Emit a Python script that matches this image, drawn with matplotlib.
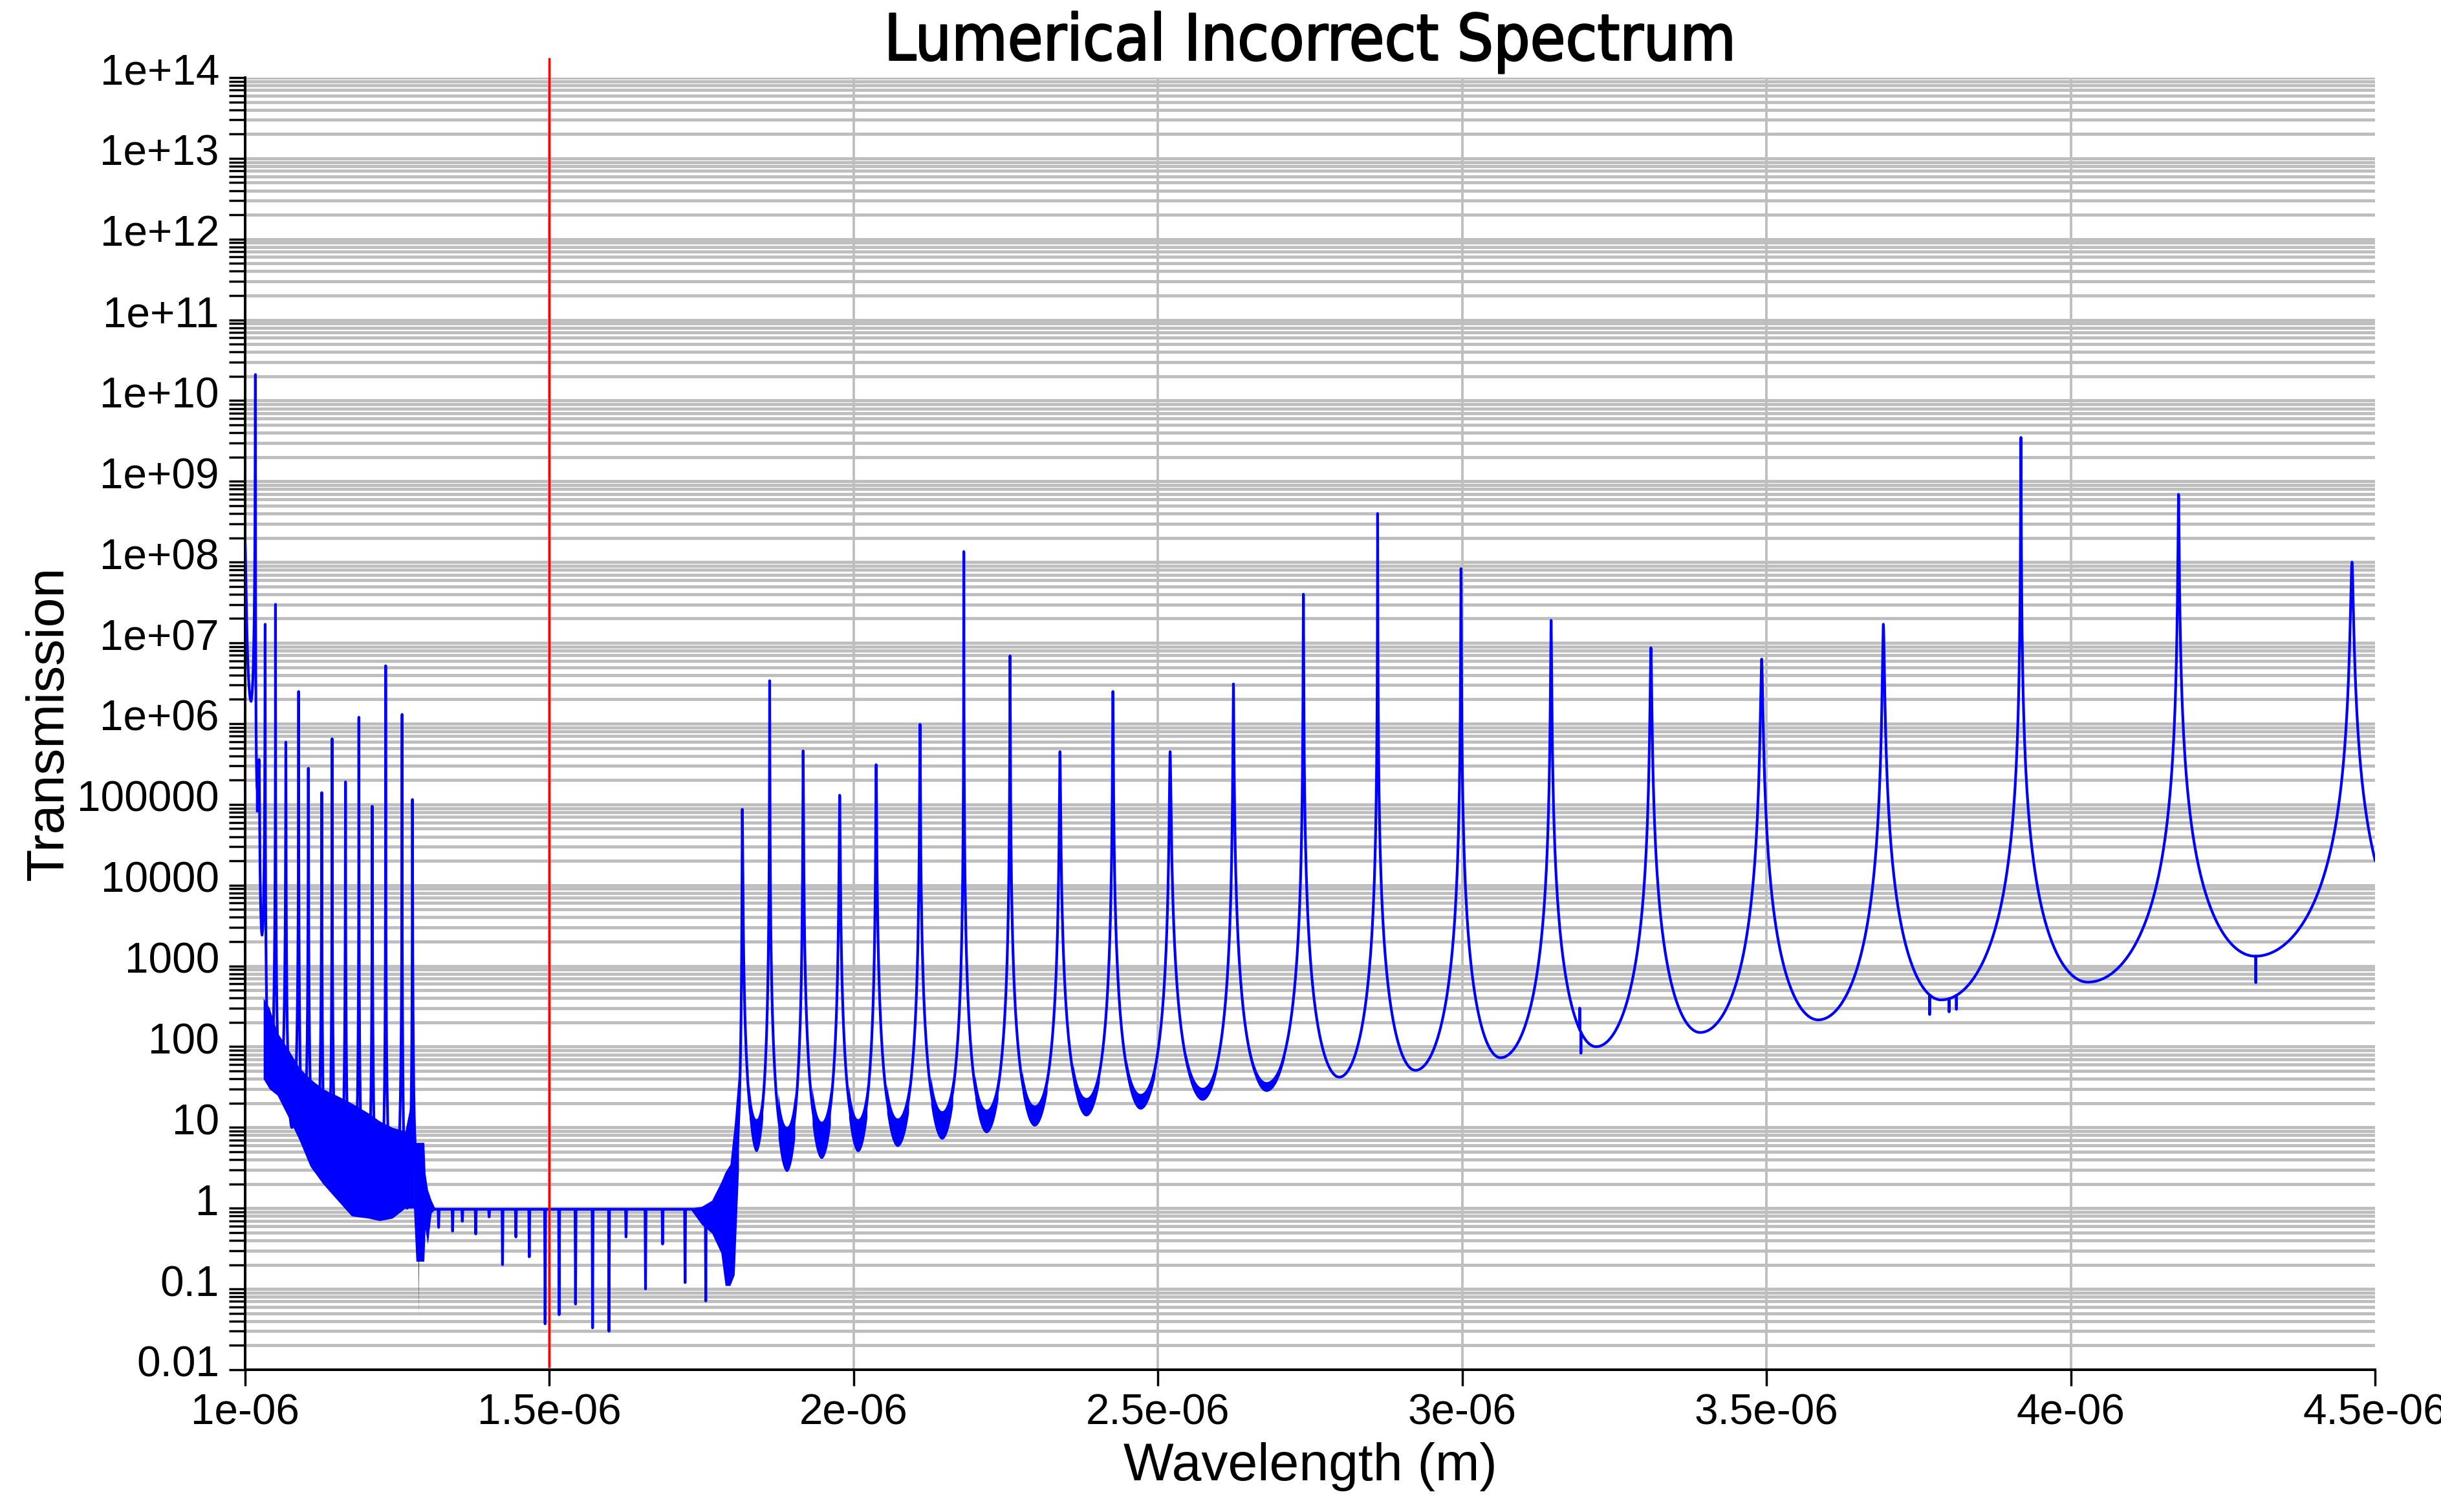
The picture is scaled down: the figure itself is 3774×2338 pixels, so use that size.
import os
import numpy as np
import matplotlib
matplotlib.use("Agg")
import matplotlib.pyplot as plt
import matplotlib.patheffects as pe
from matplotlib import font_manager
from matplotlib.font_manager import FontProperties
from matplotlib.ticker import FixedLocator, LogLocator, FuncFormatter, NullFormatter
from matplotlib.transforms import ScaledTranslation

# wavelengths below are in micrometres
# short-wavelength resonances (1.0 - 1.28 um)
r1_peak_wl = [1.000, 1.017, 1.023, 1.033, 1.050, 1.067, 1.088, 1.104, 1.126, 1.143,
              1.165, 1.187, 1.209, 1.231, 1.258, 1.275]
r1_peak_T = [1.7e8, 2.1e10, 3.6e5, 1.7e7, 3e7, 5.9e5, 2.5e6, 2.8e5, 1.4e5, 6.5e5,
             1.9e5, 1.2e6, 9.5e4, 5.2e6, 1.3e6, 1.15e5]
r1_valley_wl = [1.010, 1.020, 1.028, 1.041, 1.058, 1.077, 1.096, 1.115, 1.134, 1.154,
                1.176, 1.198, 1.220, 1.244, 1.266, 1.290]
r1_valley_T = [2e6, 1.5e5, 2.5e3, 40, 30, 10, 8, 3, 2, 1.4, 1.0, 0.9, 0.8, 0.9, 1.0, 0.5]

# dense oscillation band under the short-wavelength peaks
band1_wl = [1.030, 1.040, 1.053, 1.072, 1.089, 1.107, 1.128, 1.150, 1.175, 1.203,
            1.221, 1.242, 1.263, 1.277]
band1_hi = [400, 300, 150, 90, 55, 40, 30, 25, 20, 15, 12, 10, 9, 30]
band1_lo = [40, 30, 25, 13, 7, 3.3, 2.0, 1.3, 0.8, 0.75, 0.7, 0.75, 1.0, 1.0]

band12_wl = [1.277, 1.281, 1.2845, 1.285, 1.2855, 1.294, 1.296, 1.300, 1.306, 1.312]
band12_hi = [30, 6.5, 6.5, 6.5, 6.5, 6.5, 2.7, 1.7, 1.25, 1.0]
band12_lo = [1.0, 0.22, 0.22, 0.045, 0.22, 0.22, 0.55, 0.36, 0.87, 0.97]

# flat stop band with narrow dips
r2_start, r2_end, r2_level = 1.300, 1.760, 0.97
r2_dip_wl = [1.318, 1.341, 1.357, 1.379, 1.401, 1.423, 1.445, 1.467, 1.493, 1.516,
             1.543, 1.571, 1.598, 1.626, 1.658, 1.686, 1.723, 1.757]
r2_dip_T = [0.58, 0.52, 0.69, 0.48, 0.78, 0.20, 0.44, 0.25, 0.037, 0.048,
            0.065, 0.033, 0.030, 0.44, 0.10, 0.36, 0.12, 0.071]

band23_wl = [1.732, 1.750, 1.767, 1.782, 1.789, 1.797, 1.804, 1.811]
band23_hi = [1.0, 1.05, 1.25, 2.1, 2.8, 3.5, 10.7, 48]
band23_lo = [0.97, 0.63, 0.49, 0.28, 0.11, 0.11, 0.15, 3.0]

# long-wavelength resonances (1.8 - 4.5 um); one valley before each peak plus a last one
r3_peak_wl = [1.817, 1.862, 1.917, 1.977, 2.037, 2.109, 2.181, 2.257, 2.339, 2.426,
              2.520, 2.624, 2.739, 2.861, 2.998, 3.146, 3.310, 3.492, 3.692, 3.918,
              4.177, 4.462]
r3_peak_T = [8.7e4, 3.4e6, 4.6e5, 1.3e5, 3.1e5, 9.8e5, 1.35e8, 6.9e6, 4.5e5, 2.5e6,
             4.5e5, 3.1e6, 4e7, 4e8, 8.3e7, 1.9e7, 8.7e6, 6.3e6, 1.7e7, 3.5e9,
             6.9e8, 1e8]
r3_valley_wl = [1.795, 1.840, 1.890, 1.947, 2.007, 2.072, 2.145, 2.218, 2.297, 2.382,
                2.471, 2.573, 2.678, 2.798, 2.923, 3.063, 3.220, 3.391, 3.585, 3.787,
                4.028, 4.303, 4.620]
r3_valley_T = [1.0, 8, 5.4, 7, 8, 8.7, 10.7, 12, 14, 18, 21, 26, 32, 42, 51, 73,
               100, 150, 215, 380, 630, 1320, 1250]
# spread of the fast ripple at the bottom of the first valleys (factor around the curve)
r3_valley_ripple = [1.6, 1.9, 1.7, 1.6, 1.5, 1.5, 1.4, 1.35, 1.3, 1.25, 1.2, 1.15]

glitch_wl = [3.193, 3.195, 3.768, 3.800, 3.812, 4.304]
glitch_T = [300, 83, 250, 270, 290, 620]

marker_wl = 1.5
x_ticks = [1e-6, 1.5e-6, 2e-6, 2.5e-6, 3e-6, 3.5e-6, 4e-6, 4.5e-6]
y_ticks = [10.0 ** e for e in range(-2, 15)]

Q = 1.4
PTS_PER_UM = 20000


def segment(p_wl, p_T, v_wl, v_T):
    # resonance flank from a peak down to the neighbouring valley
    n = max(int(abs(v_wl - p_wl) * PTS_PER_UM), 30)
    wl = np.linspace(p_wl, v_wl, n)
    d = np.linspace(0, 1, n)
    eps = (v_T / p_T) ** (1 / Q)
    return wl, v_T * (np.sin(d * np.pi / 2) ** 2 + eps) ** (-Q)


def resonances(peak_wl, peak_T, valley_wl, valley_T, lead):
    xs, ys = [], []
    for k in range(len(peak_wl)):
        if lead:
            left, right = k, k + 1
        else:
            left, right = k - 1, k
        if left >= 0:
            w, t = segment(peak_wl[k], peak_T[k], valley_wl[left], valley_T[left])
            xs.append(w)
            ys.append(t)
        w, t = segment(peak_wl[k], peak_T[k], valley_wl[right], valley_T[right])
        xs.append(w)
        ys.append(t)
    x = np.concatenate(xs)
    y = np.concatenate(ys)
    x, idx = np.unique(x, return_index=True)
    return x, y[idx]


x1, y1 = resonances(r1_peak_wl, r1_peak_T, r1_valley_wl, r1_valley_T, lead=False)

x2 = [r2_start]
y2 = [r2_level]
for w, t in zip(r2_dip_wl, r2_dip_T):
    x2 += [w - 0.0008, w, w + 0.0008]
    y2 += [r2_level, t, r2_level]
x2.append(r2_end)
y2.append(r2_level)

x3, y3 = resonances(r3_peak_wl, r3_peak_T, r3_valley_wl, r3_valley_T, lead=True)
pos = np.searchsorted(x3, glitch_wl)
x3 = np.insert(x3, pos, glitch_wl)
y3 = np.insert(y3, pos, glitch_T)

wl = np.concatenate([x1, np.array(x2), x3])
T = np.concatenate([y1, np.array(y2), y3])

# fonts
label_font = "Liberation Sans"
title_fp = None
title_stroke = 0.7
for f in font_manager.fontManager.ttflist:
    if os.path.basename(f.fname) == "DejaVuSansCondensed.ttf":
        title_fp = FontProperties(fname=f.fname, size=28.5)
        break
if title_fp is None:
    title_fp = FontProperties(family="DejaVu Sans", weight="normal", size=26.7)
    title_stroke = 1.3

fig = plt.figure(figsize=(15.096, 9.352), dpi=250)
ax = fig.add_axes([0.1004, 0.0941, 0.8726, 0.8546])

ax.set_yscale("log")
ax.set_xlim(1e-6, 4.5e-6)
ax.set_ylim(0.01, 1e14)

grid_kw = dict(color="#bebebe", lw=1.4, zorder=0)
ax.grid(True, which="both", axis="y", **grid_kw)
for xv in x_ticks[1:-1]:
    ax.axvline(xv, color="#bebebe", lw=1.1, zorder=0)
ax.set_axisbelow(True)

blue = "#0000ff"
ax.fill_between(np.array(band1_wl) * 1e-6, band1_lo, band1_hi, color=blue, lw=0, zorder=3)
ax.fill_between(np.array(band12_wl) * 1e-6, band12_lo, band12_hi, color=blue, lw=0, zorder=3)
ax.fill_between(np.array(band23_wl) * 1e-6, band23_lo, band23_hi, color=blue, lw=0, zorder=3)

# ripple at the valley bottoms of the first long-wavelength resonances
for j, f in enumerate(r3_valley_ripple, start=1):
    wl_a, t_a = segment(r3_peak_wl[j - 1], r3_peak_T[j - 1], r3_valley_wl[j], r3_valley_T[j])
    wl_b, t_b = segment(r3_peak_wl[j], r3_peak_T[j], r3_valley_wl[j], r3_valley_T[j])
    half = len(wl_a) // 2
    w = np.concatenate([wl_a[half:], wl_b[::-1][: len(wl_b) - len(wl_b) // 2]])
    t = np.concatenate([t_a[half:], t_b[::-1][: len(t_b) - len(t_b) // 2]])
    ax.fill_between(w * 1e-6, t / f, t * f, color=blue, lw=0, zorder=3)

ax.plot(wl * 1e-6, T, color=blue, lw=1.2, zorder=3)

ax.plot([marker_wl * 1e-6] * 2, [0.011, 1.7e14], color="#ff0000", lw=1.0,
        clip_on=False, zorder=4)

ax.xaxis.set_major_locator(FixedLocator(x_ticks))
ax.xaxis.set_major_formatter(FuncFormatter(lambda v, p: "%g" % v))
ax.yaxis.set_major_locator(FixedLocator(y_ticks))
ax.yaxis.set_major_formatter(FuncFormatter(lambda v, p: "%g" % v))
ax.yaxis.set_minor_locator(LogLocator(base=10, subs=np.arange(2, 10), numticks=100))
ax.yaxis.set_minor_formatter(NullFormatter())

for s in ["top", "right"]:
    ax.spines[s].set_visible(False)
for s in ["left", "bottom"]:
    ax.spines[s].set_linewidth(1.15)
    ax.spines[s].set_color("black")

ax.tick_params(axis="both", which="both", direction="out", length=7.2, width=1.0,
               colors="black", labelsize=18.9)
ax.tick_params(axis="y", pad=4.3)
ax.tick_params(axis="x", pad=3.2)
for lab in ax.get_xticklabels() + ax.get_yticklabels():
    lab.set_fontfamily(label_font)
for lab in ax.get_yticklabels():
    lab.set_transform(lab.get_transform() + ScaledTranslation(0, 13 / 250, fig.dpi_scale_trans))

ax.set_xlabel("Wavelength (m)", fontsize=23.7, family=label_font)
ax.set_ylabel("Transmission", fontsize=23.7, family=label_font)
ax.xaxis.set_label_coords(0.5, -0.056)
ax.yaxis.set_label_coords(-0.0805, 0.5)
title = ax.set_title("Lumerical Incorrect Spectrum", fontproperties=title_fp, pad=7.8)
title.set_path_effects([pe.withStroke(linewidth=title_stroke, foreground="black")])

fig.savefig("out.png", dpi=250)
